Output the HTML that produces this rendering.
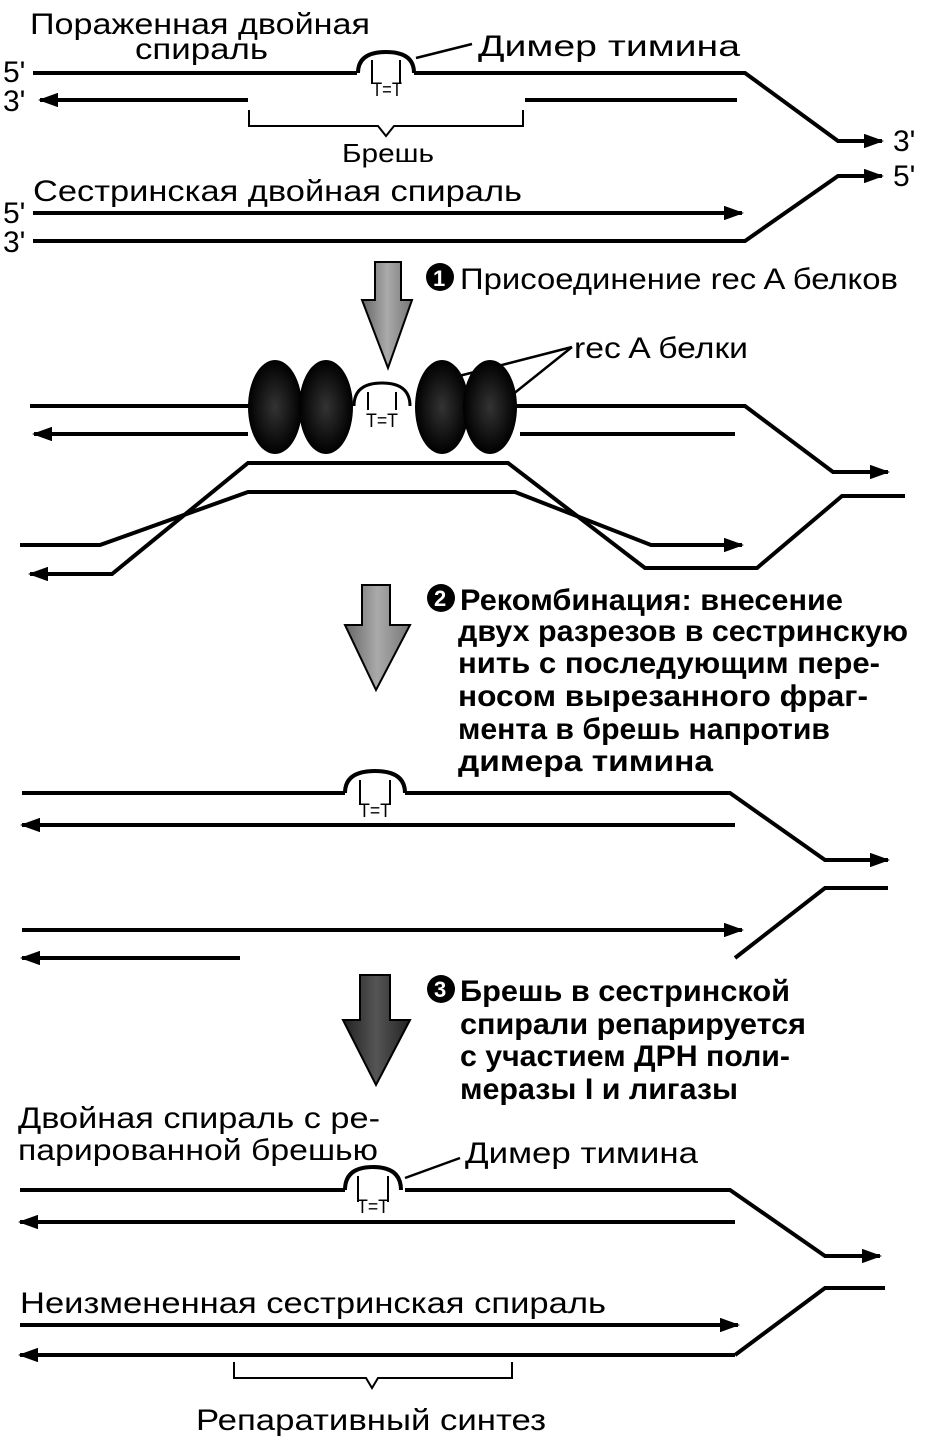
<!DOCTYPE html>
<html><head><meta charset="utf-8"><style>
html,body{margin:0;padding:0;background:#fff;}
svg{display:block;}
text{font-family:"Liberation Sans",sans-serif;fill:#000;}
</style></head><body>
<svg width="936" height="1443" viewBox="0 0 936 1443" xmlns="http://www.w3.org/2000/svg">
<defs>
<marker id="ar" markerWidth="5" markerHeight="3.6" refX="4.5" refY="1.8" orient="auto" markerUnits="strokeWidth"><path d="M0,0 L5,1.8 L0,3.6 z" fill="#000"/></marker>
<linearGradient id="g1" x1="0" y1="0" x2="1" y2="0"><stop offset="0" stop-color="#666"/><stop offset="0.5" stop-color="#aaa"/><stop offset="1" stop-color="#777"/></linearGradient>
<linearGradient id="g3" x1="0" y1="0" x2="1" y2="0"><stop offset="0" stop-color="#222"/><stop offset="0.5" stop-color="#555"/><stop offset="1" stop-color="#222"/></linearGradient>
<radialGradient id="eg" cx="0.5" cy="0.5" r="0.5"><stop offset="0" stop-color="#333"/><stop offset="1" stop-color="#000"/></radialGradient>
</defs>
<g fill="none" stroke="#000" stroke-width="4">
<path d="M33,73 H357 M414,73 H745 L838,141 H868" />
<path d="M866,141 H882" marker-end="url(#ar)"/>
<path d="M248,100 H40" marker-end="url(#ar)"/>
<path d="M525,100 H737"/>
<path d="M249,110 V126 H378 L386,136 L394,126 H523 V110" stroke-width="2"/>
<path d="M33,213 H742" marker-end="url(#ar)"/>
<path d="M33,241 H745 L838,176 H868"/>
<path d="M866,176 H882" marker-end="url(#ar)"/>
<path d="M30,406 H250 M510,406 H745 L833,472 H870"/>
<path d="M868,472 H888" marker-end="url(#ar)"/>
<path d="M248,434 H34" marker-end="url(#ar)"/>
<path d="M520,434 H735"/>
<path d="M905,496 H842 L757,568 H645 L508,463 H248 L112,574 H30" marker-end="url(#ar)"/>
<path d="M20,545 H100 L248,492 H515 L651,545 H742" marker-end="url(#ar)"/>
<path d="M22,793 H345 M405,793 H730 L825,860 H870"/>
<path d="M868,860 H888" marker-end="url(#ar)"/>
<path d="M735,825 H22" marker-end="url(#ar)"/>
<path d="M22,930 H742" marker-end="url(#ar)"/>
<path d="M240,958 H22" marker-end="url(#ar)"/>
<path d="M735,958 L825,888 H888"/>
<path d="M20,1190 H345 M405,1190 H730 L825,1256 H862"/>
<path d="M860,1256 H880" marker-end="url(#ar)"/>
<path d="M735,1222 H20" marker-end="url(#ar)"/>
<path d="M20,1325 H738" marker-end="url(#ar)"/>
<path d="M735,1355 H20" marker-end="url(#ar)"/>
<path d="M735,1355 L825,1288 H885"/>
<path d="M234,1362 V1378 H366 L372,1388 L378,1378 H512 V1362" stroke-width="2"/>
</g>
<g fill="none" stroke="#000">
<path d="M358,73 Q358,52 386,52 Q414,52 414,73" stroke-width="4"/>
<path d="M372,60 V84 M400,60 V84" stroke-width="2"/>
<path d="M354,406 Q354,383 382,383 Q410,383 410,406" stroke-width="3"/>
<path d="M368,392 V410 M396,392 V410" stroke-width="2"/>
<path d="M345,793 Q345,771 375,771 Q405,771 405,793" stroke-width="4"/>
<path d="M360,780 V805 M390,780 V805" stroke-width="2"/>
<path d="M345,1190 Q345,1167 373,1167 Q401,1167 401,1190" stroke-width="4"/>
<path d="M358,1176 V1202 M388,1176 V1202" stroke-width="2"/>
<path d="M416,58 L472,44" stroke-width="2.5"/>
<path d="M405,1178 L460,1158" stroke-width="2.5"/>
<path d="M572,347 L455,377 M572,347 L512,395" stroke-width="2.5"/>
</g>
<g font-size="19">
<text x="372" y="96" textLength="30" lengthAdjust="spacingAndGlyphs">T=T</text>
<text x="366" y="427" textLength="32" lengthAdjust="spacingAndGlyphs">T=T</text>
<text x="359" y="817" textLength="32" lengthAdjust="spacingAndGlyphs">T=T</text>
<text x="357" y="1213" textLength="32" lengthAdjust="spacingAndGlyphs">T=T</text>
</g>
<ellipse cx="275" cy="407" rx="27" ry="47" fill="url(#eg)"/>
<ellipse cx="326" cy="407" rx="27" ry="47" fill="url(#eg)"/>
<ellipse cx="442" cy="407" rx="27" ry="47" fill="url(#eg)"/>
<ellipse cx="490" cy="407" rx="27" ry="47" fill="url(#eg)"/>
<path d="M375,262 H401 V300 H412 L388,368 L362,300 H375 Z" fill="url(#g1)" stroke="#000" stroke-width="2"/>
<path d="M362,585 H390 V625 H410 L376,690 L345,625 H362 Z" fill="url(#g1)" stroke="#000" stroke-width="2"/>
<path d="M360,975 H390 V1020 H410 L376,1085 L343,1020 H360 Z" fill="url(#g3)" stroke="#000" stroke-width="2"/>
<circle cx="440" cy="277" r="14" fill="#000"/><text x="433" y="286" font-size="22" font-weight="bold" style="fill:#fff">1</text>
<circle cx="441" cy="598" r="14" fill="#000"/><text x="434" y="606" font-size="22" font-weight="bold" style="fill:#fff">2</text>
<circle cx="441" cy="989" r="14" fill="#000"/><text x="434" y="997" font-size="22" font-weight="bold" style="fill:#fff">3</text>
<g font-size="30">
<text x="30" y="34" textLength="340" lengthAdjust="spacingAndGlyphs">Пораженная двойная</text>
<text x="135" y="59" textLength="133" lengthAdjust="spacingAndGlyphs">спираль</text>
<text x="478" y="56" textLength="262" lengthAdjust="spacingAndGlyphs">Димер тимина</text>
<text x="3" y="82">5'</text>
<text x="3" y="111">3'</text>
<text x="342" y="162" font-size="26" textLength="92" lengthAdjust="spacingAndGlyphs">Брешь</text>
<text x="893" y="151">3'</text>
<text x="893" y="186">5'</text>
<text x="33" y="201" textLength="489" lengthAdjust="spacingAndGlyphs">Сестринская двойная спираль</text>
<text x="3" y="223">5'</text>
<text x="3" y="252">3'</text>
<text x="460" y="289" textLength="438" lengthAdjust="spacingAndGlyphs">Присоединение rec A белков</text>
<text x="574" y="358" textLength="174" lengthAdjust="spacingAndGlyphs">rec A белки</text>
</g>
<g font-size="30" font-weight="bold">
<text x="460" y="610" textLength="383" lengthAdjust="spacingAndGlyphs">Рекомбинация: внесение</text>
<text x="458" y="641" textLength="450" lengthAdjust="spacingAndGlyphs">двух разрезов в сестринскую</text>
<text x="458" y="673" textLength="422" lengthAdjust="spacingAndGlyphs">нить с последующим пере-</text>
<text x="458" y="706" textLength="410" lengthAdjust="spacingAndGlyphs">носом вырезанного фраг-</text>
<text x="458" y="739" textLength="372" lengthAdjust="spacingAndGlyphs">мента в брешь напротив</text>
<text x="458" y="771" textLength="255" lengthAdjust="spacingAndGlyphs">димера тимина</text>
<text x="460" y="1001" textLength="330" lengthAdjust="spacingAndGlyphs">Брешь в сестринской</text>
<text x="460" y="1034" textLength="346" lengthAdjust="spacingAndGlyphs">спирали репарируется</text>
<text x="460" y="1066" textLength="330" lengthAdjust="spacingAndGlyphs">с участием ДРН поли-</text>
<text x="460" y="1099" textLength="278" lengthAdjust="spacingAndGlyphs">меразы I и лигазы</text>
</g>
<g font-size="30">
<text x="18" y="1128" textLength="362" lengthAdjust="spacingAndGlyphs">Двойная спираль с ре-</text>
<text x="18" y="1160" textLength="360" lengthAdjust="spacingAndGlyphs">парированной брешью</text>
<text x="465" y="1163" textLength="233" lengthAdjust="spacingAndGlyphs">Димер тимина</text>
<text x="20" y="1313" textLength="586" lengthAdjust="spacingAndGlyphs">Неизмененная сестринская спираль</text>
<text x="196" y="1430" textLength="350" lengthAdjust="spacingAndGlyphs">Репаративный синтез</text>
</g>
</svg>
</body></html>
